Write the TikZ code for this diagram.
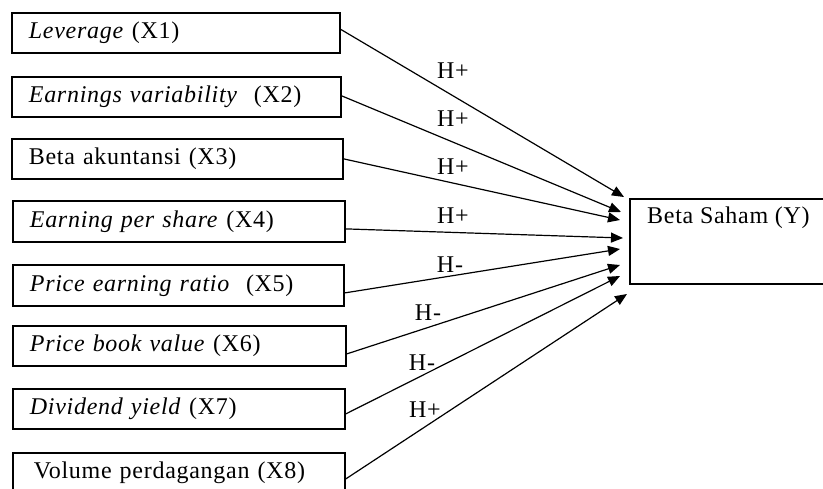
\documentclass[tikz,border=0pt]{standalone}
\usepackage{fontspec}
\setmainfont[LetterSpace=3]{Liberation Serif}
\usetikzlibrary{arrows.meta}
\begin{document}
\begin{tikzpicture}[x=1pt,y=-1pt,
  font=\fontsize{24}{28}\selectfont,
  varbox/.style={draw, line width=1.8pt, anchor=north west, minimum height=40,
    inner xsep=17, inner ysep=0, align=left},
  arr/.style={line width=1.2pt, -{Triangle[length=12pt,width=10pt]}},
  hyp/.style={inner sep=0}]
\useasboundingbox (0,0) rectangle (823,488);
\clip (0,0) rectangle (823,488);
\node[varbox, text width=294] (x1) at (11,12) {\textit{Leverage} (X1)};
\node[varbox, text width=295] (x2) at (11,76) {\textit{Earnings variability}\ \ (X2)};
\node[varbox, text width=297] (x3) at (11,138) {Beta akuntansi (X3)};
\node[varbox, text width=298, minimum height=41] (x4) at (12,200) {\textit{Earning per share} (X4)};
\node[varbox, text width=297, minimum height=41] (x5) at (12,264) {\textit{Price earning ratio}\ \ (X5)};
\node[varbox, text width=299] (x6) at (12,325) {\textit{Price book value} (X6)};
\node[varbox, text width=298] (x7) at (12,388) {\textit{Dividend yield} (X7)};
\node[varbox, text width=298, inner xsep=17] (x8) at (12,452) {\,Volume perdagangan (X8)};
\node[draw, line width=1.8pt, anchor=north west, minimum width=215, minimum height=85] (y) at (629,198) {};
\node[anchor=west, inner sep=0] (ylab) at (647,218) {Beta Saham (Y)};
\path (x1.east) ++(0,-3.5) coordinate (s1);
\path (x2.east) ++(0,-1) coordinate (s2);
\path (x3.east) ++(0,0) coordinate (s3);
\path (x4.east) ++(0,7.5) coordinate (s4);
\path (x5.east) ++(0,7.5) coordinate (s5);
\path (x6.east) ++(0,8) coordinate (s6);
\path (x7.east) ++(0,5) coordinate (s7);
\path (x8.east) ++(0,6) coordinate (s8);
\coordinate (t1) at (624,197);
\coordinate (t2) at (621,212);
\coordinate (t3) at (620,220);
\coordinate (t4) at (623,238);
\coordinate (t5) at (620,249);
\coordinate (t6) at (620,265);
\coordinate (t7) at (620,276);
\coordinate (t8) at (627,294);
\foreach \i in {1,...,8} { \draw[arr] (s\i) -- (t\i); }
\node[hyp] (h1) at (453,71) {H+};
\node[hyp] (h2) at (453,119) {H+};
\node[hyp] (h3) at (453,167) {H+};
\node[hyp] (h4) at (453,216) {H+};
\node[hyp] (h5) at (450,265) {H-};
\node[hyp] (h6) at (428,313) {H-};
\node[hyp] (h7) at (422,363) {H-};
\node[hyp] (h8) at (425,410) {H+};
\end{tikzpicture}
\end{document}
